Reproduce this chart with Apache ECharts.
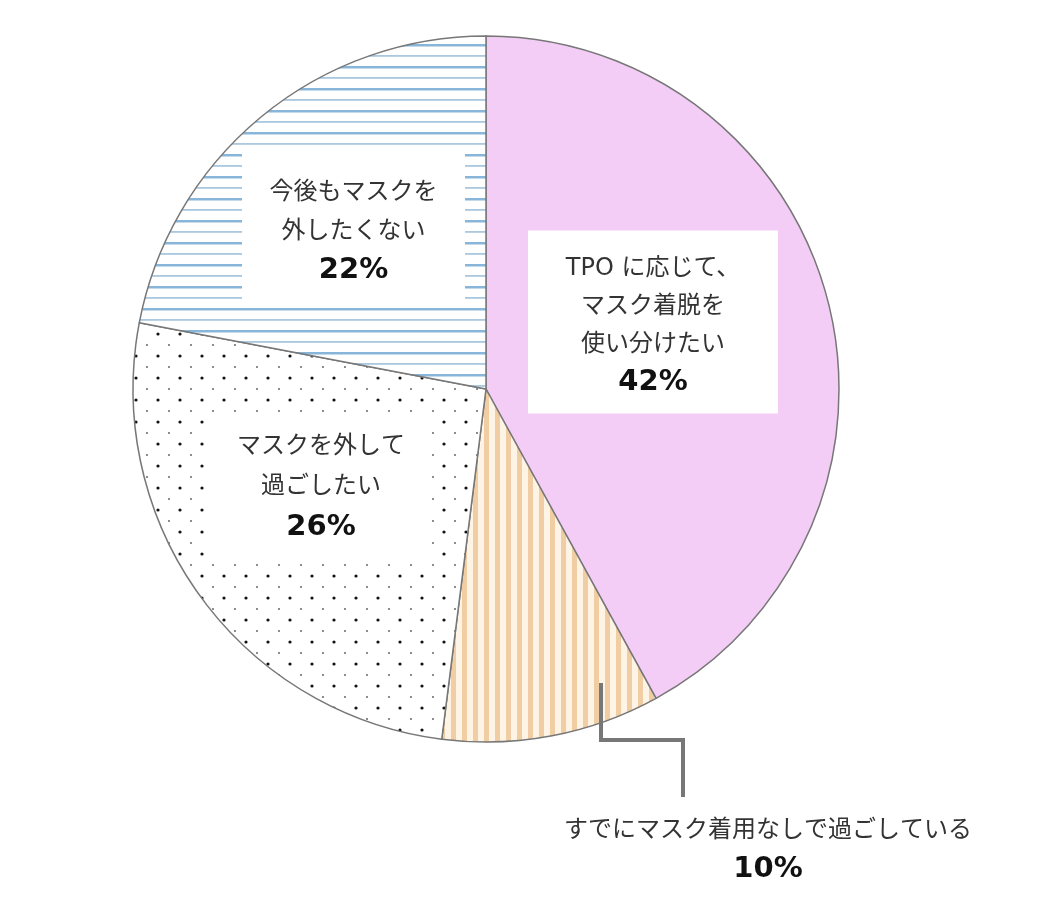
<!DOCTYPE html>
<html>
<head>
<meta charset="utf-8">
<script src="https://cdn.jsdelivr.net/npm/echarts@6/dist/echarts.min.js"></script>
<style>
  html, body { margin: 0; padding: 0; background: #fff; }
  #chart { width: 1058px; height: 918px; }
</style>
</head>
<body>
<div id="chart"></div>
<script>
// Survey answers, clockwise from 12 o'clock
const categories = [
  'TPO に応じて、\nマスク着脱を\n使い分けたい',
  'すでにマスク着用なしで過ごしている',
  'マスクを外して\n過ごしたい',
  '今後もマスクを\n外したくない'
];
const shares = [42, 10, 26, 22];

// ---- fill patterns ----
function makeTile(w, h, draw) {
  const c = document.createElement('canvas');
  c.width = w; c.height = h;
  draw(c.getContext('2d'), w, h);
  return c;
}
const stripesV = makeTile(11, 11, (g, w, h) => {
  g.fillStyle = '#fdf4e6'; g.fillRect(0, 0, w, h);
  g.fillStyle = '#f0cda2'; g.fillRect(0, 0, 5, h);
});
const dots = makeTile(22, 22, (g, w, h) => {
  g.fillStyle = '#ffffff'; g.fillRect(0, 0, w, h);
  g.fillStyle = '#111'; g.beginPath(); g.arc(4, 4, 1.6, 0, Math.PI * 2); g.fill();
  g.fillStyle = '#555'; g.beginPath(); g.arc(15, 15, 0.9, 0, Math.PI * 2); g.fill();
});
const stripesH = makeTile(4, 22, (g, w, h) => {
  g.fillStyle = '#ffffff'; g.fillRect(0, 0, w, h);
  g.fillStyle = '#88b6da'; g.fillRect(0, 0, w, 2.5);
  g.fillStyle = '#aac8df'; g.fillRect(0, 11, w, 1.8);
});
const fills = [
  '#f3cdf6',
  { image: stripesV, repeat: 'repeat' },
  { image: dots, repeat: 'repeat' },
  { image: stripesH, repeat: 'repeat' }
];

// label panels: centre, text width, line height, padding [top, right, bottom, left]
const boxes = [
  { x: 653, y: 322, w: 250, lh: 38, pad: [19, 0, 12, 0], bg: '#fff' },
  { x: 768, y: 850, w: 420, lh: 38, pad: [0, 0, 0, 0], bg: 'transparent' },
  { x: 321, y: 489, w: 218, lh: 40, pad: [9, 0, 13, 0], bg: '#fff' },
  { x: 353.5, y: 226.5, w: 223, lh: 39, pad: [20, 0, 10, 0], bg: '#fff' }
];
// elbow leader from the small slice down to its caption
const leader = [[601, 683], [601, 740], [683, 740], [683, 797]];
const fontFamily = '"DejaVu Sans", "Noto Sans CJK JP", sans-serif';

const data = categories.map((name, i) => {
  const b = boxes[i];
  return {
    name, value: shares[i],
    itemStyle: { color: fills[i] },
    label: {
      backgroundColor: b.bg,
      width: b.w,
      padding: b.pad,
      rich: {
        t: { fontSize: 24, lineHeight: b.lh, color: '#333', fontFamily },
        p: { fontSize: 29, lineHeight: b.lh, color: '#111', fontWeight: 'bold', fontFamily }
      }
    }
  };
});

const chart = echarts.init(document.getElementById('chart'), null, { renderer: 'canvas' });
chart.setOption({
  animation: false,
  graphic: [{
    type: 'polyline',
    z: 100,
    silent: true,
    shape: { points: leader },
    style: { stroke: '#777', lineWidth: 4, fill: null }
  }],
  series: [{
    type: 'pie',
    center: [486, 389],
    radius: 353,
    startAngle: 90,
    clockwise: true,
    avoidLabelOverlap: false,
    emphasis: { disabled: true },
    itemStyle: { borderColor: '#777', borderWidth: 1.5 },
    label: {
      show: true,
      position: 'inside',
      align: 'center',
      verticalAlign: 'middle',
      formatter: p => p.name.split('\n').map(l => '{t|' + l + '}').join('\n') +
        '\n{p|' + p.value + '%}'
    },
    labelLine: { show: false },
    labelLayout: p => {
      const b = boxes[p.dataIndex];
      return { x: b.x, y: b.y, align: 'center', verticalAlign: 'middle' };
    },
    data
  }]
});
</script>
</body>
</html>
